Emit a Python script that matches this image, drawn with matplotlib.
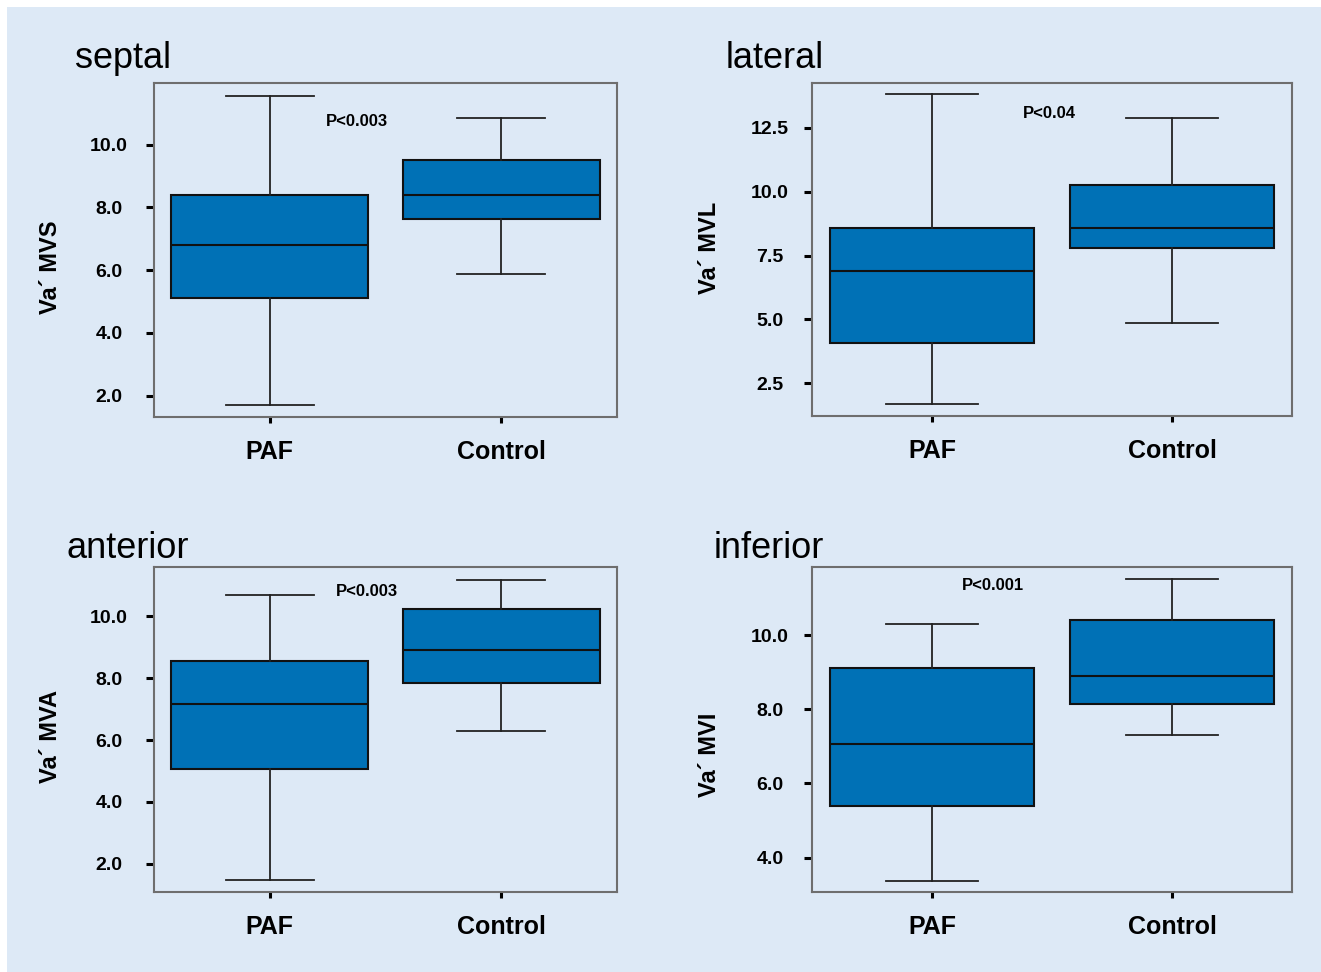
import matplotlib
matplotlib.use('Agg')
import matplotlib.pyplot as plt
from matplotlib.patches import Rectangle

plt.rcParams['font.family'] = ['Liberation Sans', 'DejaVu Sans']

# data: whislo, q1, median, q3, whishi
groups = ["PAF", "Control"]
titles = ["septal", "lateral", "anterior", "inferior"]
ylabels = ["Va\u00b4 MVS", "Va\u00b4 MVL", "Va\u00b4 MVA", "Va\u00b4 MVI"]
pvals = ["P<0.003", "P<0.04", "P<0.003", "P<0.001"]

septal_paf = [1.69, 5.10, 6.80, 8.38, 11.56]
septal_ctl = [5.88, 7.63, 8.38, 9.52, 10.85]
lateral_paf = [1.68, 4.07, 6.89, 8.57, 13.81]
lateral_ctl = [4.88, 7.80, 8.57, 10.25, 12.88]
anterior_paf = [1.46, 5.06, 7.15, 8.57, 10.68]
anterior_ctl = [6.28, 7.84, 8.90, 10.24, 11.19]
inferior_paf = [3.37, 5.40, 7.07, 9.12, 10.30]
inferior_ctl = [7.31, 8.14, 8.89, 10.42, 11.52]

yticks = [[2, 4, 6, 8, 10], [2.5, 5, 7.5, 10, 12.5], [2, 4, 6, 8, 10], [4, 6, 8, 10]]
ylims = [(1.32, 11.96), (1.22, 14.26), (1.08, 11.60), (3.07, 11.84)]
ptext_pos = [(1.375, 10.74), (1.49, 13.06), (1.42, 10.80), (1.255, 11.35)]

panels = [(septal_paf, septal_ctl), (lateral_paf, lateral_ctl),
          (anterior_paf, anterior_ctl), (inferior_paf, inferior_ctl)]

W, H = 1321, 972
bg = '#dde9f6'
boxcol = '#0071b6'
framecol = '#6e6e6e'

fig = plt.figure(figsize=(W / 100, H / 100), dpi=100)
fig.patch.set_facecolor('white')
fig.patches.append(Rectangle((7 / W, 0), 1, 1 - 7 / H, transform=fig.transFigure,
                             facecolor=bg, edgecolor='none', zorder=-10))

# axes boxes in pixels: left, top, right, bottom
rects = [(154, 83, 617, 417), (812, 83, 1292, 416),
         (154, 567, 617, 892), (812, 567, 1292, 892)]
title_xy = [(75, 59), (726, 59), (66, 548), (714, 548)]
# y label centres (axes fraction) and tick label pads
ylab_xy = [(-0.2246, 0.449), (-0.2125, 0.505), (-0.2246, 0.477), (-0.2125, 0.4215)]
ypads = [26.5, 24.5, 26.5, 24.5]

for i, (paf, ctl) in enumerate(panels):
    l, t, r, b = rects[i]
    ax = fig.add_axes([l / W, 1 - b / H, (r - l) / W, (b - t) / H])
    ax.set_facecolor(bg)
    stats = []
    for name, v in zip(groups, (paf, ctl)):
        stats.append(dict(label=name, whislo=v[0], q1=v[1], med=v[2], q3=v[3], whishi=v[4], fliers=[]))
    ax.bxp(stats, positions=[1, 2], widths=0.85, capwidths=0.38, patch_artist=True,
           showfliers=False,
           boxprops=dict(facecolor=boxcol, edgecolor='#111111', linewidth=1.5),
           medianprops=dict(color='#111111', linewidth=1.5),
           whiskerprops=dict(color='#222222', linewidth=1.3),
           capprops=dict(color='#222222', linewidth=1.3))
    ax.set_xlim(0.5, 2.5)
    ax.set_ylim(*ylims[i])
    ax.set_yticks(yticks[i])
    ax.set_yticklabels([f"{v:.1f}" for v in yticks[i]], fontsize=14, fontweight='bold', ha='center')
    ax.set_xticks([1, 2])
    ax.set_xticklabels(groups, fontsize=18, fontweight='bold')
    ax.tick_params(axis='y', length=5.8, width=2.2, pad=ypads[i], color='black')
    ax.tick_params(axis='x', length=4.5, width=2.2, pad=12, color='black')
    for s in ax.spines.values():
        s.set_color(framecol)
        s.set_linewidth(1.5)
    ax.set_ylabel(ylabels[i], fontsize=17, fontweight='bold', va='center')
    ax.yaxis.set_label_coords(*ylab_xy[i])
    ax.text(*ptext_pos[i], pvals[i], ha='center', va='center', fontsize=12, fontweight='bold')
    tx, ty = title_xy[i]
    fig.text(tx / W, 1 - ty / H, titles[i], fontsize=26, ha='left', va='center')

fig.savefig('out.png', dpi=100, facecolor=fig.get_facecolor())
